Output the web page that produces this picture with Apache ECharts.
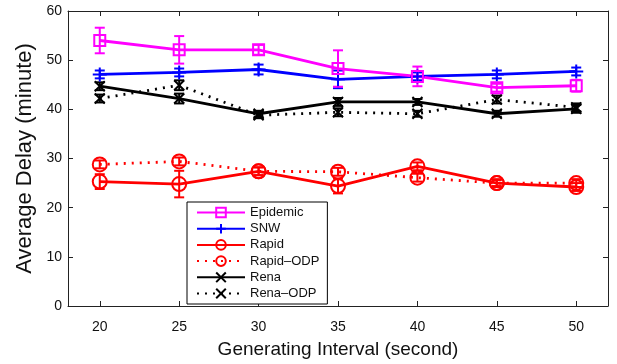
<!DOCTYPE html>
<html><head><meta charset="utf-8">
<script src="https://cdn.jsdelivr.net/npm/echarts@6/dist/echarts.min.js"></script>
<style>html,body{margin:0;padding:0;background:#fff}#c{width:617px;height:364px}</style>
</head><body><div id="c"></div>
<script>
const xValues = [20, 25, 30, 35, 40, 45, 50];
const epidemic = [54.0, 52.1, 52.1, 48.3, 46.7, 44.4, 44.8];
const epidemicErr = [2.6, 2.8, 1.0, 3.7, 2.0, 0.8, 1.2];
const snw = [47.1, 47.5, 48.1, 46.1, 46.7, 47.1, 47.7];
const snwErr = [0.8, 0.8, 1.0, 1.8, 0.8, 0.8, 0.8];
const rapid = [25.3, 24.8, 27.4, 24.4, 28.4, 25.0, 24.2];
const rapidErr = [1.5, 2.7, 0.8, 1.5, 0.8, 0.8, 0.8];
const rapidOdp = [28.8, 29.4, 27.4, 27.3, 26.1, 25.0, 25.0];
const rapidOdpErr = [0.8, 0.8, 0.8, 0.8, 0.8, 0.6, 0.8];
const rena = [44.7, 42.2, 39.1, 41.5, 41.5, 39.1, 40.1];
const renaErr = [0.8, 1.0, 0.6, 0.8, 0.6, 0.6, 0.8];
const renaOdp = [42.2, 44.9, 38.8, 39.4, 39.1, 42.0, 40.4];
const renaOdpErr = [0.8, 1.0, 0.6, 0.8, 0.6, 0.8, 0.8];
const yTicks = [0, 10, 20, 30, 40, 50, 60];

const chart = echarts.init(document.getElementById('c'));
const XMARK = 'path://M0,0L10,10M10,0L0,10';
const PLUS = 'path://M5,0L5,10M0,5L10,5';

function pairs(vals){ return xValues.map((x,i)=>[x, vals[i]]); }
function errSeries(vals, errs, color){
  return {
    type:'custom', silent:true, z:3,
    data: xValues.map((x,i)=>[x, vals[i]-errs[i], vals[i]+errs[i]]),
    renderItem:function(params, api){
      const lo = api.coord([api.value(0), api.value(1)]);
      const hi = api.coord([api.value(0), api.value(2)]);
      const w = 5;
      const st = {stroke:color, lineWidth:2};
      return {type:'group', children:[
        {type:'line', shape:{x1:lo[0],y1:lo[1],x2:hi[0],y2:hi[1]}, style:st},
        {type:'line', shape:{x1:lo[0]-w,y1:lo[1],x2:lo[0]+w,y2:lo[1]}, style:st},
        {type:'line', shape:{x1:hi[0]-w,y1:hi[1],x2:hi[0]+w,y2:hi[1]}, style:st}
      ]};
    }
  };
}
function lineSeries(name, vals, color, symbol, dotted, size){
  return {
    name, type:'line', data:pairs(vals), symbol, symbolSize:size||11, z:4,
    lineStyle:{color, width:2.8, type: dotted ? [2,6] : 'solid'},
    itemStyle:{color:'rgba(255,255,255,0)', borderColor:color, borderWidth:2},
    emphasis:{disabled:true}
  };
}

const series = [
  errSeries(renaOdp, renaOdpErr, '#000'),
  errSeries(rena, renaErr, '#000'),
  errSeries(rapidOdp, rapidOdpErr, '#ff0000'),
  errSeries(rapid, rapidErr, '#ff0000'),
  errSeries(snw, snwErr, '#0000ff'),
  errSeries(epidemic, epidemicErr, '#ff00ff'),
  lineSeries('Rena\u2013ODP', renaOdp, '#000', XMARK, true, 10),
  lineSeries('Rena', rena, '#000', XMARK, false, 10),
  lineSeries('Rapid\u2013ODP', rapidOdp, '#ff0000', 'circle', true, 14),
  lineSeries('Rapid', rapid, '#ff0000', 'circle', false, 14),
  lineSeries('SNW', snw, '#0000ff', PLUS, false, 14),
  lineSeries('Epidemic', epidemic, '#ff00ff', 'rect', false, 11)
];

const axisLine = {onZero:false, lineStyle:{color:'#222', width:1}};
const tick = {inside:true, length:5, lineStyle:{color:'#222'}};

chart.setOption({
  animation:false,
  textStyle:{fontFamily:'Liberation Sans, Arial, sans-serif'},
  grid:{left:68, right:9, top:11, bottom:50},
  legend:{
    orient:'vertical', left:187, top:202,
    data:['Epidemic','SNW','Rapid','Rapid\u2013ODP','Rena','Rena\u2013ODP'],
    itemWidth:48, itemHeight:12, itemGap:3.2,
    padding:[4,8,4,9],
    borderColor:'#000', borderWidth:1, backgroundColor:'#fff',
    textStyle:{fontSize:13, color:'#111', fontFamily:'Liberation Sans, Arial, sans-serif'}
  },
  xAxis:[
    {type:'value', min:18, max:52, position:'bottom',
      axisLine, splitLine:{show:false},
      axisLabel:{fontSize:14, color:'#111', margin:14, customValues:xValues},
      axisTick:Object.assign({customValues:xValues}, tick),
      name:'Generating Interval (second)', nameLocation:'middle', nameGap:34,
      nameTextStyle:{fontSize:19, color:'#111'}},
    {type:'value', min:18, max:52, position:'top', axisLabel:{show:false},
      axisLine, splitLine:{show:false},
      axisTick:Object.assign({customValues:xValues}, tick)}
  ],
  yAxis:[
    {type:'value', min:0, max:60, interval:10, position:'left',
      axisLine, axisTick:tick, splitLine:{show:false},
      axisLabel:{fontSize:14, color:'#111', margin:6},
      name:'Average Delay (minute)', nameLocation:'middle', nameGap:32,
      nameTextStyle:{fontSize:22, color:'#111'}},
    {type:'value', min:0, max:60, interval:10, position:'right',
      axisLine, axisTick:tick, splitLine:{show:false}, axisLabel:{show:false}}
  ],
  series
});
</script></body></html>
